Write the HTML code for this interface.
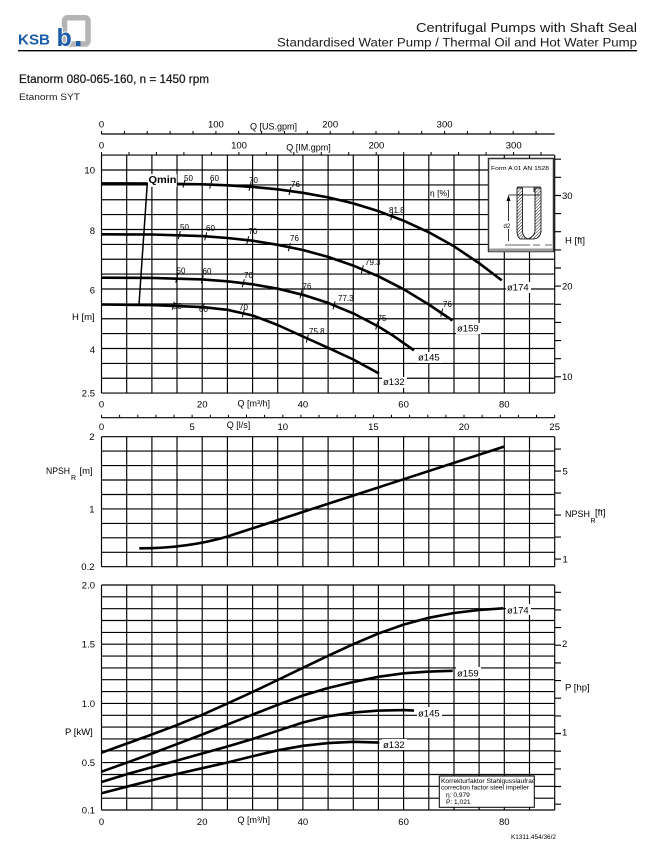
<!DOCTYPE html>
<html><head><meta charset="utf-8"><style>
html,body{margin:0;padding:0;background:#fff;}
svg{display:block;}
text{font-family:"Liberation Sans",Arial,sans-serif;fill:#000;}
</style></head><body>
<svg width="662" height="862" viewBox="0 0 662 862" xmlns="http://www.w3.org/2000/svg">
<defs>
<pattern id="hatch" width="2.2" height="2.2" patternUnits="userSpaceOnUse" patternTransform="rotate(45)"><line x1="0" y1="0" x2="0" y2="2.2" stroke="#000" stroke-width="0.9"/></pattern>
<clipPath id="cb"><rect x="440" y="776" width="94" height="31"/></clipPath>
</defs>
<rect width="662" height="862" fill="#fff"/>

<!-- Header -->
<text x="18" y="44.5" font-size="15" font-weight="bold" style="fill:#1c5ca8" textLength="32" lengthAdjust="spacingAndGlyphs">KSB</text>
<rect x="64.5" y="17.8" width="23.5" height="26.2" rx="3" fill="none" stroke="#b4b4b4" stroke-width="5.5"/>
<text x="56.5" y="46" font-size="25" font-weight="bold" style="fill:#1c5ca8;stroke:#fff;stroke-width:2;paint-order:stroke">b</text>
<rect x="76" y="41" width="4.5" height="5" fill="#1c5ca8"/>
<text x="637" y="32" font-size="13" text-anchor="end" textLength="221" lengthAdjust="spacingAndGlyphs" style="fill:#1a1a1a">Centrifugal Pumps with Shaft Seal</text>
<text x="637" y="46.5" font-size="12.3" text-anchor="end" textLength="360" lengthAdjust="spacingAndGlyphs" style="fill:#1a1a1a">Standardised Water Pump / Thermal Oil and Hot Water Pump</text>
<line x1="18" y1="50.7" x2="637" y2="50.7" stroke="#000" stroke-width="1.3"/>
<text x="19" y="83" font-size="11.5" textLength="190" lengthAdjust="spacingAndGlyphs" style="fill:#1a1a1a;stroke:#1a1a1a;stroke-width:0.25">Etanorm 080-065-160, n = 1450 rpm</text>
<text x="19" y="100" font-size="9.5" textLength="61" lengthAdjust="spacingAndGlyphs" style="fill:#1a1a1a">Etanorm SYT</text>

<!-- US gpm axis -->
<line x1="101.5" y1="134" x2="554.7" y2="134" stroke="#000" stroke-width="1.2"/>
<path d="M101.5 131V134M124.4 131V134M147.2 131V134M170.1 131V134M193 131V134M215.9 131V134M238.7 131V134M261.6 131V134M284.5 131V134M307.3 131V134M330.2 131V134M353.1 131V134M376 131V134M398.8 131V134M421.7 131V134M444.6 131V134M467.4 131V134M490.3 131V134M513.2 131V134M536.1 131V134" stroke="#000" stroke-width="1"/>
<g font-size="9.5" text-anchor="middle">
<text x="101.5" y="127.5">0</text><text x="215.9" y="127.5">100</text><text x="330.2" y="127.5">200</text><text x="444.6" y="127.5">300</text>
<text x="273.5" y="129.5" font-size="9">Q [US.gpm]</text>
<!-- IM gpm -->
<text x="101.5" y="148.5">0</text><text x="239" y="148.5">100</text><text x="376.4" y="148.5">200</text><text x="513.7" y="148.5">300</text>
<text x="308.5" y="150.5" font-size="9">Q [IM.gpm]</text>
</g>
<path d="M101.5 152V155M129 152V155M156.4 152V155M183.9 152V155M211.4 152V155M238.9 152V155M266.3 152V155M293.8 152V155M321.3 152V155M348.7 152V155M376.2 152V155M403.7 152V155M431.1 152V155M458.6 152V155M486.1 152V155M513.6 152V155M541 152V155" stroke="#000" stroke-width="1"/>

<!-- Top chart grid -->
<g stroke="#000" stroke-width="1.15" fill="none">
<path d="M101.5 155.1V393.1M126.7 155.1V393.1M151.9 155.1V393.1M177 155.1V393.1M202.2 155.1V393.1M227.4 155.1V393.1M252.6 155.1V393.1M277.7 155.1V393.1M302.9 155.1V393.1M328.1 155.1V393.1M353.3 155.1V393.1M378.4 155.1V393.1M403.6 155.1V393.1M428.8 155.1V393.1M454 155.1V393.1M479.1 155.1V393.1M504.3 155.1V393.1M529.5 155.1V393.1M554.7 155.1V393.1"/>
<path d="M101.5 155.1H554.7M101.5 170H554.7M101.5 184.9H554.7M101.5 199.75H554.7M101.5 214.6H554.7M101.5 229.5H554.7M101.5 244.4H554.7M101.5 259.25H554.7M101.5 274.1H554.7M101.5 289H554.7M101.5 303.9H554.7M101.5 318.75H554.7M101.5 333.6H554.7M101.5 348.5H554.7M101.5 363.4H554.7M101.5 378.25H554.7M101.5 393.1H554.7"/>
<path d="M554.7 376.8H561M554.7 358.7H561M554.7 340.6H561M554.7 322.4H561M554.7 304.3H561M554.7 286.1H561M554.7 268H561M554.7 249.9H561M554.7 231.7H561M554.7 213.6H561M554.7 195.5H561M554.7 177.3H561M554.7 159.2H561"/>
</g>
<g font-size="9.5">
<g text-anchor="end">
<text x="95" y="173.5">10</text><text x="95" y="234">8</text><text x="95" y="293.5">6</text><text x="95" y="353">4</text><text x="95" y="396.5">2.5</text>
</g>
<text x="72" y="320">H [m]</text>
<text x="562" y="199">30</text><text x="562" y="289.5">20</text><text x="562" y="380">10</text>
<text x="565" y="243.5">H [ft]</text>
<text x="430" y="196" font-size="8.5">η [%]</text>
</g>

<!-- Form box -->
<rect x="488.5" y="158.5" width="65" height="93" fill="#fff" stroke="#333" stroke-width="1.5"/>
<rect x="489.3" y="248.5" width="63.4" height="3" fill="#9a9a9a"/>
<text x="491" y="170" font-size="5.2" textLength="58" lengthAdjust="spacingAndGlyphs">Form A 01 AN 1528</text>
<g stroke="#000" stroke-width="0.8" fill="none">
<line x1="508.5" y1="195" x2="540" y2="195"/>
<line x1="508.5" y1="196" x2="508.5" y2="241"/>
<line x1="517" y1="187" x2="541" y2="187"/>
<line x1="534" y1="187" x2="534" y2="192"/>
</g>
<path d="M506.5 201L508.5 195L510.5 201Z" fill="#000"/>
<path d="M517 188L522.5 188L522.5 232Q523 237 528 239L520 239Q517 236 517 232Z" fill="url(#hatch)" stroke="#000" stroke-width="0.8"/>
<path d="M535 188L541 188L541 232Q540 238 534 239L528 239Q535 236 535 230Z" fill="url(#hatch)" stroke="#000" stroke-width="0.8"/>
<rect x="503" y="221" width="10" height="8" fill="#fff"/>
<text x="503.5" y="228" font-size="6">d2</text>
<path d="M505 245H530M533 245H540M545 245H552" stroke="#666" stroke-width="1"/>

<!-- Top chart curves -->
<g fill="none" stroke="#000" stroke-width="2.6" stroke-linejoin="round" stroke-linecap="butt">
<polyline points="101.5,183.4 151.9,183.5 202.2,184.3 227.4,185.3 252.6,186.9 277.7,189.3 302.9,192.8 328.1,197.4 353.3,203.4 378.4,211.1 403.6,220.7 428.8,232.3 454,246.3 479.1,263.2 501.8,280.4"/>
<polyline points="101.5,234.3 151.9,234.5 202.2,236.1 227.4,238 252.6,240.7 277.7,244.8 302.9,250 328.1,256.9 353.3,265.6 378.4,276.3 403.6,289.2 428.8,304.5 452.5,320.5"/>
<polyline points="101.5,277.7 151.9,277.9 202.2,279.4 227.4,281.3 252.6,284.3 277.7,288.7 302.9,294.8 328.1,302.9 353.3,313.4 378.4,326.5 393.5,335.9 414,350.3"/>
<polyline points="101.5,304.5 151.9,305.1 202.2,307.1 227.4,309.8 252.6,315.5 277.7,325 302.9,336.5 328.1,347.8 353.3,359.5 379,373.5"/>
</g>
<!-- Qmin -->
<rect x="147.8" y="174" width="29" height="13" fill="#fff"/>
<line x1="147.3" y1="183.3" x2="139" y2="304.5" stroke="#000" stroke-width="1.5"/>
<text x="148.5" y="183" font-size="10.5" font-weight="bold" textLength="28" lengthAdjust="spacingAndGlyphs">Qmin</text>

<!-- efficiency ticks -->
<g stroke="#000" stroke-width="1">
<path d="M183 187.6L185 179.6M209.7 188.6L211.7 180.6M249 190.7L251 182.7M289 195L291 187M390.7 220.2L392.7 212.2"/>
<path d="M178.3 239.1L180.3 231.1M204.7 240.4L206.7 232.4M246.7 244.2L248.7 236.2M288.3 251.2L290.3 243.2M361.3 273.4L363.3 265.4M440.7 316.6L442.7 308.6"/>
<path d="M175.7 282.6L177.7 274.6M201.3 283.4L203.3 275.4M242.3 287.2L244.3 279.2M300 298.3L302 290.3M333 309.4L335 301.4M375.7 329.6L377.7 321.6"/>
<path d="M172.3 309.8L174.3 301.8M202.3 311.2L204.3 303.2M242.3 317.4L244.3 309.4M306.3 342.5L308.3 334.5"/>
</g>
<g font-size="8">
<text x="184" y="181">50</text><text x="210" y="181">60</text><text x="249" y="183">70</text><text x="291" y="187">76</text><text x="389" y="213">81.8</text>
<text x="180" y="230">50</text><text x="206" y="231">60</text><text x="248.5" y="234">70</text><text x="290" y="241">76</text><text x="365" y="265">79.3</text><text x="443" y="307">76</text>
<text x="176.5" y="273.5">50</text><text x="202.5" y="274">60</text><text x="244" y="278">70</text><text x="302.5" y="289">76</text><text x="338" y="301">77.3</text><text x="377.5" y="321">75</text>
<text x="173" y="309">50</text><text x="199" y="312">60</text><text x="239" y="310">70</text><text x="309" y="334">75.8</text>
</g>
<!-- diameter labels top -->
<g font-size="9.5">
<rect x="506" y="282" width="25" height="11" fill="#fff"/><text x="507" y="290.5">ø174</text>
<rect x="456" y="323" width="25" height="11" fill="#fff"/><text x="457" y="331.5">ø159</text>
<rect x="417" y="352" width="25" height="11" fill="#fff"/><text x="418" y="360.5">ø145</text>
<rect x="382" y="377" width="25" height="11" fill="#fff"/><text x="383" y="385">ø132</text>
</g>

<!-- top chart x labels -->
<g font-size="9.5" text-anchor="middle">
<text x="101.5" y="407.5">0</text><text x="202.2" y="407.5">20</text><text x="302.9" y="407.5">40</text><text x="403.6" y="407.5">60</text><text x="504.3" y="407.5">80</text>
<text x="253.8" y="406.5" font-size="9">Q [m³/h]</text>
</g>

<!-- l/s axis -->
<line x1="101.5" y1="417.7" x2="554.7" y2="417.7" stroke="#000" stroke-width="1.2"/>
<path d="M101.5 414.7V417.7M119.6 414.7V417.7M137.8 414.7V417.7M155.9 414.7V417.7M174 414.7V417.7M192.1 414.7V417.7M210.3 414.7V417.7M228.4 414.7V417.7M246.5 414.7V417.7M264.6 414.7V417.7M282.8 414.7V417.7M300.9 414.7V417.7M319 414.7V417.7M337.1 414.7V417.7M355.3 414.7V417.7M373.4 414.7V417.7M391.5 414.7V417.7M409.6 414.7V417.7M427.8 414.7V417.7M445.9 414.7V417.7M464 414.7V417.7M482.1 414.7V417.7M500.3 414.7V417.7M518.4 414.7V417.7M536.5 414.7V417.7M554.7 414.7V417.7" stroke="#000" stroke-width="1"/>
<g font-size="9.5" text-anchor="middle">
<text x="101.5" y="430">0</text><text x="192.1" y="430">5</text><text x="282.8" y="430">10</text><text x="373.4" y="430">15</text><text x="464" y="430">20</text><text x="554.7" y="430">25</text>
<text x="238.5" y="428" font-size="9">Q [l/s]</text>
</g>

<!-- NPSH chart -->
<g stroke="#000" stroke-width="1.15" fill="none">
<path d="M101.5 436.7V566.7M126.7 436.7V566.7M151.9 436.7V566.7M177 436.7V566.7M202.2 436.7V566.7M227.4 436.7V566.7M252.6 436.7V566.7M277.7 436.7V566.7M302.9 436.7V566.7M328.1 436.7V566.7M353.3 436.7V566.7M378.4 436.7V566.7M403.6 436.7V566.7M428.8 436.7V566.7M454 436.7V566.7M479.1 436.7V566.7M504.3 436.7V566.7M529.5 436.7V566.7M554.7 436.7V566.7"/>
<path d="M101.5 436.7H554.7M101.5 451.1H554.7M101.5 465.6H554.7M101.5 480H554.7M101.5 494.5H554.7M101.5 508.9H554.7M101.5 523.4H554.7M101.5 537.8H554.7M101.5 552.3H554.7M101.5 566.7H554.7"/>
<path d="M554.7 559.1H561M554.7 537.1H561M554.7 515.1H561M554.7 493.1H561M554.7 471.1H561M554.7 449.1H561"/>
</g>
<path d="M139.3 548.3C170 548.3 200 544.5 226.7 536.7L504 446.6" fill="none" stroke="#000" stroke-width="2.6"/>
<g font-size="9.5">
<g text-anchor="end"><text x="94.5" y="440">2</text><text x="94.5" y="512.5">1</text><text x="94.5" y="570">0.2</text></g>
<text x="46" y="474" textLength="24" lengthAdjust="spacingAndGlyphs">NPSH</text><text x="71" y="480" font-size="7">R</text><text x="79.5" y="474">[m]</text>
<text x="562.5" y="474.5">5</text><text x="562.5" y="562.5">1</text>
<text x="565" y="517" textLength="25" lengthAdjust="spacingAndGlyphs">NPSH</text><text x="590.5" y="523" font-size="7">R</text><text x="595" y="515.5">[ft]</text>
</g>

<!-- Power chart -->
<g stroke="#000" stroke-width="1.15" fill="none">
<path d="M101.5 585V810M126.7 585V810M151.9 585V810M177 585V810M202.2 585V810M227.4 585V810M252.6 585V810M277.7 585V810M302.9 585V810M328.1 585V810M353.3 585V810M378.4 585V810M403.6 585V810M428.8 585V810M454 585V810M479.1 585V810M504.3 585V810M529.5 585V810M554.7 585V810"/>
<path d="M101.5 810H554.7M101.5 798.2H554.7M101.5 786.3H554.7M101.5 774.5H554.7M101.5 762.6H554.7M101.5 750.8H554.7M101.5 738.9H554.7M101.5 727.1H554.7M101.5 715.3H554.7M101.5 703.4H554.7M101.5 691.6H554.7M101.5 679.7H554.7M101.5 667.9H554.7M101.5 656.1H554.7M101.5 644.2H554.7M101.5 632.4H554.7M101.5 620.5H554.7M101.5 608.7H554.7M101.5 596.8H554.7M101.5 585H554.7"/>
<path d="M554.7 804.2H561M554.7 786.5H561M554.7 768.9H561M554.7 751.2H561M554.7 733.5H561M554.7 715.9H561M554.7 698.2H561M554.7 680.6H561M554.7 662.9H561M554.7 645.2H561M554.7 627.6H561M554.7 609.9H561M554.7 592.3H561"/>
</g>
<g fill="none" stroke="#000" stroke-width="2.6" stroke-linejoin="round">
<polyline points="101.5,752.7 126.7,743.6 151.9,734.5 176.7,725.2 202.2,714.8 226.7,703.8 252.6,692 277.7,680 302.9,667.8 328.1,655.8 353.3,644.2 378.4,633.5 403.6,624.6 428.8,617.8 454,613 479.1,610 503.3,608.3"/>
<polyline points="101.5,771.7 126.7,762.7 151.9,753.5 176.7,744.2 202.2,734.5 227.4,724.6 252.6,714.6 277.7,704.8 302.9,695.5 328.1,688 353.3,682 378.4,676.8 403.6,673.3 428.8,671.6 452.7,670.8"/>
<polyline points="101.5,782 126.7,774.2 151.9,767.3 176.7,760.6 202.2,753.5 227.4,746.5 252.6,739 277.7,730.8 302.9,722.5 328.1,716.3 353.3,712.6 378.4,710.6 403.6,710.1 414,710.6"/>
<polyline points="101.5,793.3 126.7,786.7 151.9,780.2 176.7,774 202.2,768.2 227.4,762.5 252.6,756.3 277.7,750.3 302.9,745.8 328.1,743.1 353.3,741.8 379.3,742.6"/>
</g>
<g font-size="9.5">
<rect x="506" y="604" width="25" height="11" fill="#fff"/><text x="507" y="613.5">ø174</text>
<rect x="456" y="667" width="25" height="11" fill="#fff"/><text x="457" y="676.5">ø159</text>
<rect x="417" y="707" width="25" height="11" fill="#fff"/><text x="418" y="716.5">ø145</text>
<rect x="382" y="739" width="25" height="11" fill="#fff"/><text x="383" y="748">ø132</text>
<g text-anchor="end"><text x="95" y="588.5">2.0</text><text x="95" y="647.7">1.5</text><text x="95" y="706.9">1.0</text><text x="95" y="766.1">0.5</text><text x="95" y="813.5">0.1</text></g>
<text x="65" y="735">P [kW]</text>
<text x="562" y="647">2</text><text x="562" y="735.5">1</text>
<text x="565" y="690.5">P [hp]</text>
</g>
<g font-size="9.5" text-anchor="middle">
<text x="101.5" y="825">0</text><text x="202.2" y="825">20</text><text x="302.9" y="825">40</text><text x="403.6" y="825">60</text><text x="504.3" y="825">80</text>
<text x="253.8" y="823" font-size="9">Q [m³/h]</text>
</g>

<!-- correction box -->
<rect x="439.3" y="776" width="95" height="31.3" fill="#fff" stroke="#000" stroke-width="1"/>
<g font-size="6.6" clip-path="url(#cb)">
<text x="441" y="783">Korrekturfaktor Stahlgusslaufrad</text>
<text x="441" y="789.5">correction factor steel impeller</text>
<text x="446" y="797">η:  0,979</text>
<text x="446" y="804">P:  1,021</text>
</g>
<text x="511" y="839" font-size="6.6" textLength="45" lengthAdjust="spacingAndGlyphs">K1311.454/36/2</text>
</svg>
</body></html>
